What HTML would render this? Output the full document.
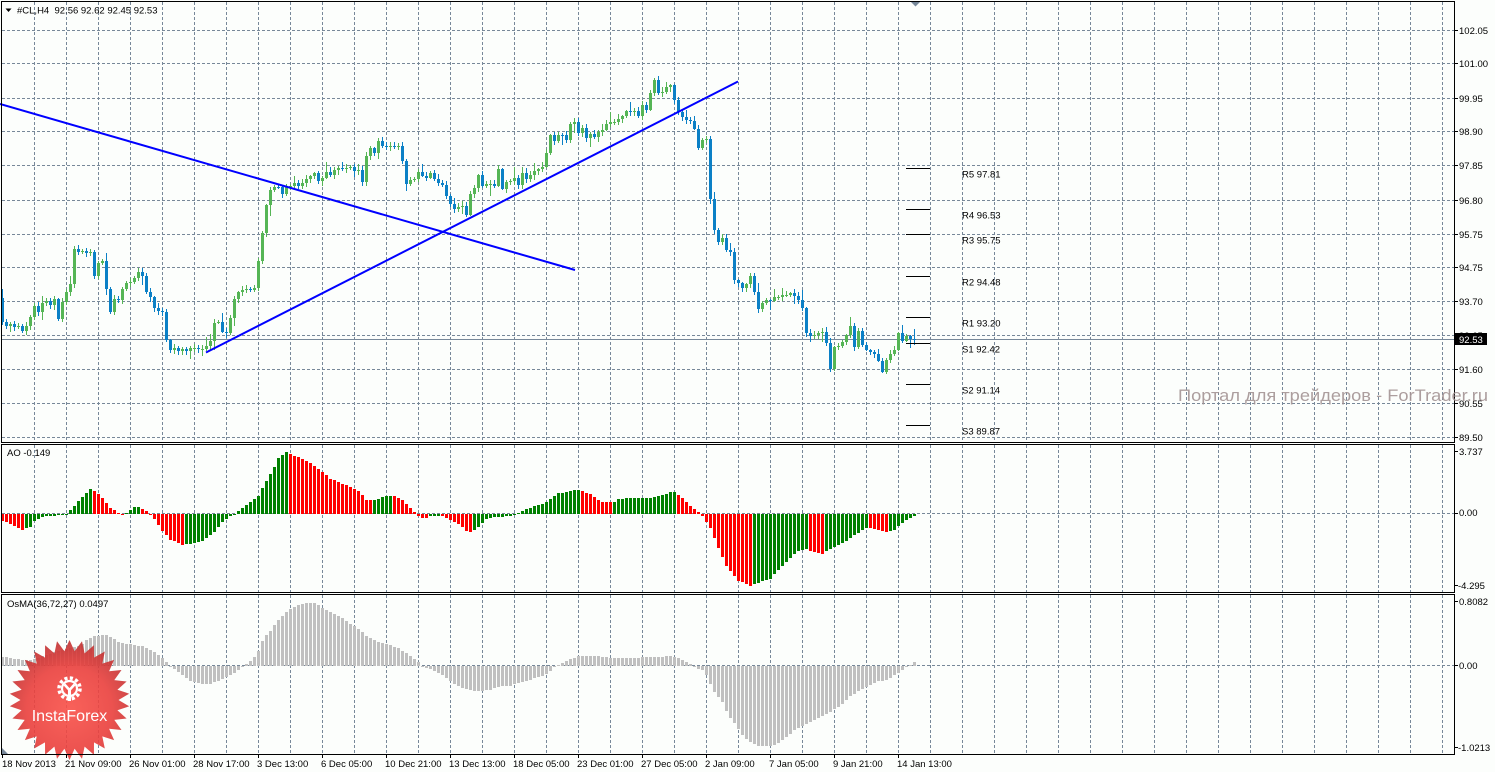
<!DOCTYPE html>
<html><head><meta charset="utf-8">
<style>
html,body{margin:0;padding:0;background:#fcfefc;}
svg{display:block;}
text{font-family:"Liberation Sans",Arial,sans-serif;font-size:9.5px;fill:#000;}
</style></head><body>
<svg id="s" width="1495" height="772" viewBox="0 0 1495 772" xmlns="http://www.w3.org/2000/svg">
<defs>
<radialGradient id="rg" cx="50%" cy="58%" r="55%">
<stop offset="0" stop-color="#f95048"/><stop offset="0.65" stop-color="#ea3f3c"/><stop offset="1" stop-color="#c43232"/>
</radialGradient>
</defs>
<rect width="1495" height="772" fill="#fcfefc"/>
<g id="grid"></g>
<line x1="2" y1="339.5" x2="1454" y2="339.5" stroke="#778899" stroke-width="1"/>
<g id="candles" shape-rendering="crispEdges"></g>
<g stroke="#0000ff" stroke-width="2" fill="none">
<line x1="0" y1="104" x2="575" y2="270"/>
<line x1="206" y1="352.5" x2="738" y2="81.5"/>
</g>
<g stroke="#000" stroke-width="1" shape-rendering="crispEdges">
<line x1="906" y1="168.5" x2="930" y2="168.5"/>
<line x1="906" y1="209.5" x2="930" y2="209.5"/>
<line x1="906" y1="234.5" x2="930" y2="234.5"/>
<line x1="906" y1="276.5" x2="930" y2="276.5"/>
<line x1="906" y1="317.5" x2="930" y2="317.5"/>
<line x1="906" y1="343.5" x2="930" y2="343.5"/>
<line x1="906" y1="384.5" x2="930" y2="384.5"/>
<line x1="906" y1="425.5" x2="930" y2="425.5"/>
</g>
<g>
<text x="962" y="177.5">R5 97.81</text>
<text x="962" y="218.5">R4 96.53</text>
<text x="962" y="243.5">R3 95.75</text>
<text x="962" y="285.5">R2 94.48</text>
<text x="962" y="326.5">R1 93.20</text>
<text x="962" y="352.5">S1 92.42</text>
<text x="962" y="393.5">S2 91.14</text>
<text x="962" y="434.5">S3 89.87</text>
</g>
<g id="ao" shape-rendering="crispEdges"></g>
<g id="osma" shape-rendering="crispEdges"></g>
<g opacity="0.9">
<polygon id="star" fill="url(#rg)" points=""/>
</g>
<g fill="none" stroke="#fff">
<circle cx="69.5" cy="688.5" r="10.5" stroke-width="3.5" stroke-dasharray="3.1 2.4"/>
<circle cx="69.5" cy="688.5" r="7.5" stroke-width="2.2"/>
<path d="M64.5 684.5 L69.5 690 L74.5 684.5" stroke-width="2.6"/>
<line x1="69.5" y1="690" x2="69.5" y2="701" stroke-width="3"/>
</g>
<text x="69.5" y="721" text-anchor="middle" style="font-size:16px;fill:#fff">InstaForex</text>
<g fill="none" stroke="#000" stroke-width="1" shape-rendering="crispEdges">
<rect x="1.5" y="1.5" width="1453" height="441"/>
<rect x="1.5" y="444.5" width="1453" height="148"/>
<rect x="1.5" y="594.5" width="1453" height="160"/>
</g>
<path id="ticks" stroke="#000" stroke-width="1" fill="none" shape-rendering="crispEdges" d=""/>
<polygon points="911,2 920,2 915.5,6.5" fill="#778899"/>
<polygon points="2,748 2,754 8,754" fill="#778899"/>
<polygon points="5.5,8.5 11.5,8.5 8.5,12" fill="#000"/>
<text x="17" y="13.5">#CL,H4&#160;&#160;92.56 92.62 92.45 92.53</text>
<text x="7" y="456">AO -0.149</text>
<text x="7" y="607">OsMA(36,72,27) 0.0497</text>
<g>
<text x="1459" y="34">102.05</text>
<text x="1459" y="67">101.00</text>
<text x="1459" y="102">99.95</text>
<text x="1459" y="135">98.90</text>
<text x="1459" y="169">97.85</text>
<text x="1459" y="204">96.80</text>
<text x="1459" y="238">95.75</text>
<text x="1459" y="271">94.75</text>
<text x="1459" y="305">93.70</text>
<text x="1459" y="339">92.65</text>
<text x="1459" y="373">91.60</text>
<text x="1459" y="407">90.55</text>
<text x="1459" y="441">89.50</text>
<text x="1459" y="455">3.737</text>
<text x="1459" y="516">0.00</text>
<text x="1458" y="589">-4.295</text>
<text x="1459" y="605">0.8082</text>
<text x="1459" y="669">0.00</text>
<text x="1458" y="751">-1.0213</text>
</g>
<rect x="1455" y="333" width="32" height="12" fill="#000"/>
<text x="1459" y="343" style="fill:#fff">92.53</text>
<g>
<text x="2" y="767">18 Nov 2013</text>
<text x="65" y="767">21 Nov 09:00</text>
<text x="129" y="767">26 Nov 01:00</text>
<text x="193" y="767">28 Nov 17:00</text>
<text x="257" y="767">3 Dec 13:00</text>
<text x="321" y="767">6 Dec 05:00</text>
<text x="385" y="767">10 Dec 21:00</text>
<text x="449" y="767">13 Dec 13:00</text>
<text x="513" y="767">18 Dec 05:00</text>
<text x="577" y="767">23 Dec 01:00</text>
<text x="641" y="767">27 Dec 05:00</text>
<text x="705" y="767">2 Jan 09:00</text>
<text x="769" y="767">7 Jan 05:00</text>
<text x="833" y="767">9 Jan 21:00</text>
<text x="897" y="767">14 Jan 13:00</text>
</g>
<text x="1178" y="401" textLength="310" lengthAdjust="spacingAndGlyphs" style="font-size:17px;fill:#a49494;opacity:0.9">Портал для трейдеров - ForTrader.ru</text>
</svg>
<script>
(function(){
var NS='http://www.w3.org/2000/svg';
function el(p,t,a){var e=document.createElementNS(NS,t);for(var k in a)e.setAttribute(k,a[k]);p.appendChild(e);return e;}
function mulberry32(a){return function(){a|=0;a=a+0x6D2B79F5|0;var t=Math.imul(a^a>>>15,1|a);t=t+Math.imul(t^t>>>7,61|t)^t;return((t^t>>>14)>>>0)/4294967296;};}
function interp(pts,x){if(x<=pts[0][0])return pts[0][1];for(var j=0;j<pts.length-1;j++){if(x<=pts[j+1][0]){var x0=pts[j][0],y0=pts[j][1],x1=pts[j+1][0],y1=pts[j+1][1];if(x1===x0)return y1;return y0+(y1-y0)*(x-x0)/(x1-x0);}}return pts[pts.length-1][1];}
var N=229;
var g=document.getElementById('grid');var d='';
for(var k=1;k<=45;k++){var x=2+32*k+0.5;d+='M'+x+' 2V442M'+x+' 445V592M'+x+' 595V754';}
var hy=[30.5,63.5,98.5,131.5,165.5,200.5,234.5,267.5,301.5,335.5,369.5,403.5,437.5];
hy.forEach(function(y){d+='M2 '+y+'H1454';});
d+='M2 513.5H1454M2 665.5H1454';
el(g,'path',{d:d,stroke:'#778899','stroke-width':1,'stroke-dasharray':'3,2',fill:'none'});
var td='';
hy.forEach(function(y){td+='M1455 '+y+'H1458';});
[451.5,513.5,585.5,601.5,665.5,747.5].forEach(function(y){td+='M1455 '+y+'H1458';});
for(var k2=0;k2<15;k2++){var tx=2+64*k2+0.5;td+='M'+tx+' 755V758';}
document.getElementById('ticks').setAttribute('d',td);
var C=[[2,322],[6,326],[10,324],[14,327],[18,325],[22,330],[26,326],[30,318],[34,305],[38,312],[42,302],[46,300],[50,306],[54,298],[58,318],[62,302],[66,292],[70,285],[74,250],[78,252],[82,250],[86,254],[90,252],[94,275],[98,262],[102,262],[106,290],[110,312],[114,298],[118,300],[122,290],[126,283],[130,282],[134,278],[138,272],[142,276],[146,292],[150,298],[154,308],[158,310],[162,312],[166,340],[170,350],[174,348],[178,351],[182,348],[186,350],[190,349],[194,348],[198,350],[202,348],[206,346],[210,340],[214,322],[218,322],[222,332],[226,334],[230,318],[234,300],[238,292],[242,290],[246,289],[250,290],[254,288],[258,262],[262,232],[266,205],[270,190],[274,187],[278,186],[282,195],[286,188],[290,185],[294,184],[298,185],[302,182],[306,178],[310,176],[314,172],[318,181],[322,178],[326,172],[330,175],[334,170],[338,168],[342,170],[346,167],[350,168],[354,172],[358,170],[362,182],[366,155],[370,148],[374,152],[378,141],[382,146],[386,146],[390,145],[394,147],[398,146],[402,160],[406,183],[410,180],[414,178],[418,172],[422,175],[426,178],[430,174],[434,180],[438,182],[442,185],[446,195],[450,205],[454,210],[458,208],[462,205],[466,214],[470,194],[474,187],[478,176],[482,185],[486,185],[490,184],[494,185],[498,168],[502,190],[506,182],[510,180],[514,177],[518,186],[522,172],[526,178],[530,174],[534,170],[538,169],[542,166],[546,153],[550,136],[554,142],[558,136],[562,135],[566,140],[570,123],[574,121],[578,132],[582,128],[586,138],[590,134],[594,138],[598,132],[602,130],[606,125],[610,123],[614,122],[618,119],[622,116],[626,110],[630,112],[634,110],[638,116],[642,104],[646,110],[650,93],[654,81],[658,92],[662,91],[666,86],[670,85],[674,100],[678,112],[682,118],[686,120],[690,120],[694,128],[698,148],[702,140],[706,139],[710,200],[714,230],[718,242],[722,238],[726,250],[730,252],[734,280],[738,284],[742,287],[746,285],[750,276],[754,292],[758,308],[762,303],[766,300],[770,300],[774,298],[778,297],[782,296],[786,294],[790,294],[794,296],[798,300],[802,308],[806,333],[810,336],[814,334],[818,333],[822,331],[826,342],[830,370],[834,348],[838,346],[842,343],[846,336],[850,326],[854,348],[858,330],[862,346],[866,350],[870,352],[874,355],[878,360],[882,372],[886,360],[890,354],[894,350],[898,333],[902,340],[906,336],[910,339],[914,339]];
var cg=document.getElementById('candles');var r=mulberry32(7);var prev=298;
for(var i=0;i<N;i++){var x=2+4*i;var c=interp(C,x);if(i>0&&i<N-1)c+=(r()-0.5)*2;var o=(i===0)?298:prev;
var top=Math.min(o,c),bot=Math.max(o,c);
var hi=top-(1+r()*3.5+(r()<0.2?r()*8:0));var lo=bot+(1+r()*3.5+(r()<0.2?r()*8:0));
var col=(c<=o)?'#55b555':'#0b80c6';
el(cg,'rect',{x:x,y:Math.round(hi),width:1,height:Math.max(1,Math.round(lo)-Math.round(hi)),fill:col});
var t=Math.round(top),h=Math.max(1,Math.round(bot)-t);
el(cg,'rect',{x:x-1,y:t,width:3,height:h,fill:col});
prev=c;}
var A=[[2,-7],[22,-16],[30,-13],[34,-7],[46,-2],[54,-2],[66,0],[74,8],[82,17],[90,25],[94,23],[102,16],[110,6],[118,1],[122,-1],[126,1],[134,7],[138,7],[146,3],[154,-5],[162,-17],[170,-26],[182,-31],[190,-30],[202,-27],[214,-18],[222,-8],[234,0],[246,9],[258,18],[266,33],[274,47],[278,56],[286,62],[294,58],[306,53],[318,45],[330,35],[342,30],[358,23],[366,14],[372,13],[388,18],[396,17],[404,12],[412,4],[416,-1],[424,-5],[428,-3],[440,-2],[452,-7],[460,-11],[468,-19],[476,-15],[485,-6],[493,-4],[505,-3],[513,-2],[521,2],[533,7],[545,11],[557,20],[577,24],[589,20],[601,12],[613,11],[617,14],[629,16],[653,16],[673,22],[681,17],[693,5],[701,-1],[710,-14],[717,-32],[726,-52],[738,-67],[750,-72],[753,-71],[770,-65],[782,-52],[795,-39],[805,-35],[810,-37],[822,-40],[826,-37],[840,-31],[852,-23],[866,-14],[878,-16],[886,-18],[894,-16],[902,-9],[914,-2.7]];
var ag=document.getElementById('ao');var pv=null,pc='#ff0000';
for(var i2=0;i2<N;i2++){var x2=2+4*i2;var v=interp(A,x2);var col2=pc;if(pv!==null){if(v>pv+0.001)col2='#008000';else if(v<pv-0.001)col2='#ff0000';}
var y0=513.5,y1=513.5-v;var yt=Math.round(Math.min(y0,y1)),hb=Math.max(1,Math.round(Math.max(y0,y1))-yt);
el(ag,'rect',{x:x2-1,y:yt,width:3,height:hb,fill:col2});pv=v;pc=col2;}
var O=[[2,9],[20,6],[33,6],[50,12],[80,20],[87,27],[93,29],[103,31],[110,29],[117,24],[123,22],[133,21],[143,19],[153,14],[163,7],[170,-1],[180,-8],[190,-15],[200,-18],[210,-18],[220,-15],[233,-8],[243,-1],[250,5],[257,12],[263,27],[270,35],[277,44],[283,51],[290,57],[297,60],[307,63],[313,63],[320,59],[330,54],[340,49],[350,42],[360,35],[367,29],[377,24],[387,21],[397,18],[407,12],[417,4],[423,-1],[433,-5],[443,-10],[453,-18],[463,-23],[473,-25],[482,-25],[490,-24],[500,-21],[510,-20],[520,-17],[530,-14],[540,-11],[547,-8],[552,-3],[557,0],[563,3],[572,7],[580,10],[590,10],[600,9],[610,8],[640,8],[650,9],[663,9],[670,10],[677,8],[680,6],[687,3],[693,0],[698,-3],[703,-5],[707,-11],[713,-25],[718,-31],[723,-38],[728,-50],[733,-56],[738,-63],[743,-71],[750,-76],[757,-80],[767,-81],[773,-80],[780,-76],[787,-71],[793,-65],[800,-61],[810,-56],[820,-52],[830,-46],[840,-40],[847,-33],[857,-26],[867,-21],[877,-16],[887,-14],[897,-8],[902,-4],[907,-1],[910,1],[915,4]];
var og=document.getElementById('osma');
for(var i3=0;i3<N;i3++){var x3=2+4*i3;var v3=interp(O,x3);var z=665.5,e=665.5-v3;var yt3=Math.round(Math.min(z,e)),hb3=Math.max(1,Math.round(Math.max(z,e))-yt3);
el(og,'rect',{x:x3-1,y:yt3,width:3,height:hb3,fill:'#c0c0c0'});}
var pts=[],n=30,cx=69.5,cy=700,R=60,ri=49;
for(var j=0;j<2*n;j++){var ang=-Math.PI/2+j*Math.PI/n;var rr=(j%2===0)?R:ri;pts.push((cx+rr*Math.cos(ang)).toFixed(1)+','+(cy+rr*Math.sin(ang)).toFixed(1));}
document.getElementById('star').setAttribute('points',pts.join(' '));
})();
</script>
</body></html>
